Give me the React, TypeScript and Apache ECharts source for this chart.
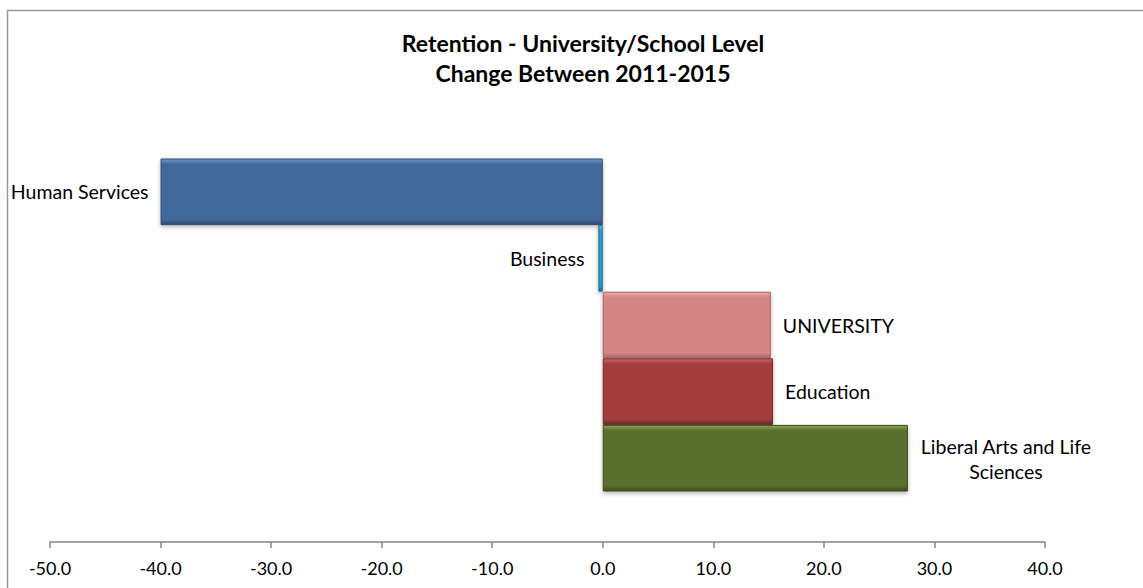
import React, { useEffect, useRef } from "react";
import * as echarts from "echarts";

const categories = ["Human Services", "Business", "UNIVERSITY", "Education", "Liberal Arts and Life Sciences"];
const values = [-40.0, -0.4, 15.2, 15.4, 27.6];
const tickMin = -50;
const tickMax = 40;
const tickStep = 10;
const titleLines = ["Retention - University/School Level", "Change Between 2011-2015"];

const palette = [
  { light: "#7199CC", main: "#41689A", dark: "#2C4A72" },
  { light: "#6CC3E6", main: "#2B9BCB", dark: "#1B6F94" },
  { light: "#ECA9A8", main: "#D38886", dark: "#A86665" },
  { light: "#D06664", main: "#A13D3B", dark: "#722A29" },
  { light: "#8EA857", main: "#5A6E2F", dark: "#3D4C1F" },
];

const FONT = "Lato, 'Open Sans', sans-serif";

export default function App() {
  const ref = useRef<HTMLDivElement>(null);
  useEffect(() => {
    if (!ref.current) return;
    const chart = echarts.init(ref.current, null, { renderer: "svg" });
    const data = values.map((v, i) => {
      const c = palette[i];
      const isLast = i === categories.length - 1;
      const base: any = {
        value: v,
        itemStyle: {
          color: new echarts.graphic.LinearGradient(0, 0, 0, 1, [
            { offset: 0, color: c.light },
            { offset: 0.08, color: c.main },
            { offset: 0.92, color: c.main },
            { offset: 1, color: c.dark },
          ]),
          borderColor: c.dark,
          borderWidth: 1,
          shadowColor: "rgba(0,0,0,0.3)",
          shadowBlur: 4,
          shadowOffsetY: 2,
        },
      };
      if (isLast) {
        base.label = {
          formatter: "Liberal Arts and Life\nSciences",
          align: "center",
          offset: [86, 1],
          lineHeight: 25,
        };
      } else if (v < 0) {
        base.label = { position: "left", distance: i === 1 ? 14 : 12 };
      }
      return base;
    });
    chart.setOption({
      animation: false,
      backgroundColor: "#ffffff",
      title: {
        text: titleLines.join("\n"),
        left: 578,
        textAlign: "center",
        top: 23,
        textStyle: {
          fontFamily: FONT,
          fontWeight: "bold",
          fontSize: 23,
          lineHeight: 30,
          color: "#000000",
        },
      },
      graphic: [
        { type: "line", shape: { x1: 7, y1: 10.5, x2: 1143, y2: 10.5 }, style: { stroke: "#9a9a9a", lineWidth: 1.5 } },
        { type: "line", shape: { x1: 7.5, y1: 10, x2: 7.5, y2: 588 }, style: { stroke: "#9a9a9a", lineWidth: 1.5 } },
      ],
      grid: { left: 50, right: 98, top: 158.5, bottom: 96.5, containLabel: false },
      xAxis: {
        type: "value",
        min: tickMin,
        max: tickMax,
        interval: tickStep,
        offset: 50.5,
        axisLine: { show: true, lineStyle: { color: "#868686", width: 1.5 } },
        axisTick: { show: true, length: 6, lineStyle: { color: "#868686", width: 1.5 } },
        splitLine: { show: false },
        axisLabel: {
          formatter: (v: number) => v.toFixed(1),
          fontFamily: FONT,
          fontSize: 18,
          color: "#000000",
          margin: 17,
        },
      },
      yAxis: {
        type: "category",
        data: categories,
        inverse: true,
        show: false,
      },
      series: [
        {
          type: "bar",
          data,
          barWidth: "100%",
          label: {
            show: true,
            formatter: (p: any) => p.name,
            position: "right",
            distance: 12,
            fontFamily: FONT,
            fontSize: 19.5,
            color: "#000000",
          },
        },
      ],
    });
    return () => chart.dispose();
  }, []);
  return (
    <div
      ref={ref}
      style={{ position: "fixed", left: 0, top: 0, width: 1143, height: 588 }}
    />
  );
}
